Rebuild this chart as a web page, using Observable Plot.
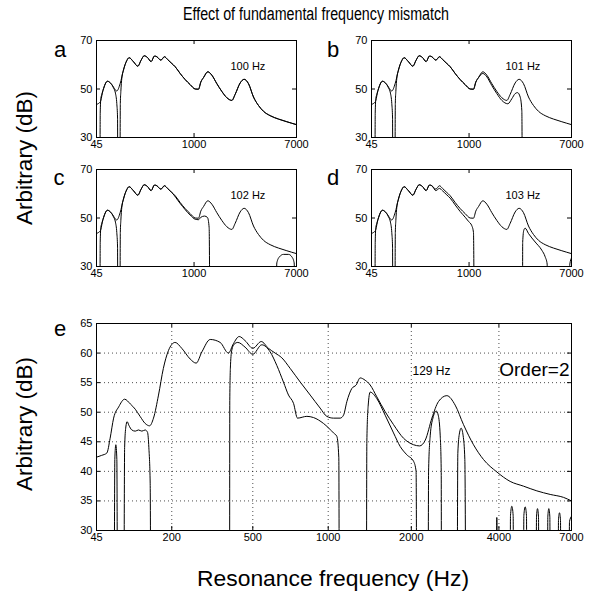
<!DOCTYPE html>
<html>
<head>
<meta charset="utf-8">
<script src="https://cdn.jsdelivr.net/npm/d3@7"></script>
<script src="https://cdn.jsdelivr.net/npm/@observablehq/plot@0.6"></script>
<style>
  html, body { margin: 0; padding: 0; background: #fff; }
  #fig { position: relative; width: 595px; height: 594px; overflow: hidden; background: #fff; }
  #fig svg { position: absolute; }
</style>
</head>
<body>
<div id="fig"></div>
<script>
// ---------- axis ticks ----------
const topXTicks = [45, 1000, 7000];
const topYTicks = [30, 50, 70];
const eXTicks = [45, 200, 500, 1000, 2000, 4000, 7000];
const eYTicks = [30, 35, 40, 45, 50, 55, 60, 65];

// ---------- panels a-d: common smooth spectrum (Hz, dB) ----------
const topMainHz = [45, 52, 59, 70, 89, 109, 134, 152, 171, 191, 206, 236, 267, 293, 318, 347, 381, 414, 439, 483, 526, 564, 622, 669, 746, 830, 923, 1023, 1095, 1149, 1212, 1322, 1431, 1579, 1740, 1917, 2110, 2248, 2472, 2665, 2891, 3175, 3485, 3823, 4325, 5040, 5870, 7000];
const topMainDb = [43.6, 44.0, 44.6, 49.4, 53.2, 51.8, 49.2, 52.2, 57.8, 61.7, 62.9, 61.2, 59.4, 61.9, 63.7, 63.0, 61.3, 63.6, 63.3, 61.9, 63.3, 62.2, 60.5, 59.2, 56.4, 53.9, 51.8, 50.0, 49.9, 52.9, 54.7, 57.1, 55.7, 52.2, 49.0, 46.4, 45.3, 47.8, 52.5, 54.0, 52.2, 46.7, 43.2, 40.8, 39.0, 37.6, 36.5, 35.3];

// second (mismatched) spectrum: low-frequency part shared by a-d; 0 dB = below the axis
const lowLeft = [[45, 0], [57.5, 0], [59, 40], [61.4, 46], [65.4, 47.8], [70, 49.4], [89, 53.2], [109, 51.8], [117, 50.5], [127, 48.3], [134, 44], [138, 38], [139.5, 0], [150.3, 0], [153, 44], [156, 49], [161.5, 54.5]];
const bRight = [[1322, 56.4], [1431, 55.0], [1579, 51.4], [1740, 48.1], [1917, 45.3], [2151, 43.9], [2321, 46.0], [2472, 48.1], [2584, 48.5], [2717, 46.7], [2803, 41], [2839, 0], [7000, 0]];
const cRight = [[746, 56.0], [923, 51.2], [1023, 49.5], [1095, 49.3], [1149, 50.3], [1237, 50.8], [1313, 50.2], [1357, 46], [1384, 0], [4770, 0], [4888, 31.5], [5132, 34], [5523, 35], [6052, 35], [6430, 34], [6709, 31.5], [6873, 0], [7000, 0]];
const dRight = [[483, 61.3], [526, 62.2], [564, 61.2], [622, 59.5], [669, 58.2], [746, 55.4], [830, 52.7], [923, 50.3], [989, 48.6], [1059, 46.8], [1095, 44], [1118, 0], [2839, 0], [2848, 40], [2910, 45], [2983, 45.8], [3175, 43.6], [3595, 40.1], [4067, 36.7], [4325, 34], [4486, 31], [4541, 0], [6628, 0], [6791, 31], [7000, 33.5]];

// ---------- panel e ----------
const eMainHz = [45, 53, 61.5, 67, 73, 82, 93, 104, 114, 124, 135, 145, 154, 166, 178, 191, 209, 228, 253, 272, 291, 320, 357, 390, 411, 436, 463, 500, 543, 582, 620, 660, 713, 781, 854, 932, 988, 1047, 1109, 1141, 1174, 1224, 1270, 1313, 1370, 1428, 1509, 1616, 1731, 1878, 2037, 2138, 2239, 2360, 2487, 2658, 2839, 3032, 3280, 3547, 3935, 4365, 4840, 5365, 5945, 6585, 7000];
const eMainDb = [42.4, 42.7, 43.1, 45.6, 49.0, 50.9, 52.2, 51.4, 50.5, 49.3, 48.1, 47.7, 49.0, 52.9, 57.4, 60.4, 61.8, 60.8, 59.0, 58.3, 60.2, 62.3, 61.8, 60.0, 61.6, 62.8, 62.1, 60.8, 61.95, 60.8, 60.0, 59.2, 57.4, 55.1, 52.9, 50.7, 49.3, 49.0, 49.0, 49.5, 51.8, 54.0, 54.6, 55.8, 55.4, 54.6, 52.6, 50.1, 47.9, 45.6, 44.5, 44.3, 45.3, 49.0, 51.8, 52.8, 51.2, 47.9, 44.5, 42.0, 39.9, 38.3, 37.5, 36.7, 36.1, 35.6, 35.0];
const eLow = [
  [45, 0], [73.4, 0], [75.1, 42], [76.9, 44.5], [78.7, 42], [80.5, 0],
  [90.9, 0], [93, 44], [95.3, 47.5], [97.9, 48.4], [101.1, 47.8], [107, 47.0], [114, 46.8], [120.6, 47.0], [127.8, 46.8], [135, 47.0], [140.3, 46.6], [143.3, 44], [146.3, 38], [148.6, 0],
  [394.5, 0], [395.6, 52], [398.6, 58], [404, 60.5], [414, 61.5], [430, 61.8], [463, 61.0], [500, 59.8], [546, 61.4], [591.5, 60.2], [630, 57.9], [670, 55.1], [702, 52.9], [735, 51.5], [762, 49.0], [829, 49.3], [879, 49.1], [960, 48.1], [1047, 46.5], [1078, 45.9], [1096, 42.3], [1103, 0],
  [1381, 0], [1389, 45], [1404, 51], [1428, 53.4], [1509, 52.3], [1616, 49.5], [1731, 46.5], [1828, 44.2], [1929, 42.8], [2037, 41.7], [2079, 40.0], [2096, 0],
  [2285, 0], [2298, 40], [2328, 46], [2379, 49], [2443, 50.2], [2482, 49.5], [2522, 46], [2542, 40], [2549, 0],
  [2876, 0], [2899, 43], [2938, 46.5], [2976, 47.3], [3024, 46], [3064, 42], [3104, 0],
  [3915, 0], [3935, 32.2], [3966, 0],
  [4354, 0], [4376, 32.5], [4422, 34.1], [4468, 32.5], [4491, 0],
  [4828, 0], [4853, 32.5], [4903, 34.0], [4953, 32.5], [4979, 0],
  [5323, 0], [5351, 32.3], [5392, 33.7], [5434, 32.3], [5462, 0],
  [5808, 0], [5838, 32.3], [5883, 33.7], [5929, 32.3], [5959, 0],
  [6304, 0], [6336, 31.8], [6385, 33.0], [6434, 31.8], [6467, 0],
  [6841, 0], [6893, 31.5], [7000, 32.4]
];

const panelLetters = ["a", "b", "c", "d", "e"];
const f0Labels = ["100 Hz", "101 Hz", "102 Hz", "103 Hz", "129 Hz"];

// ---------- build ----------
const FONT = "'Liberation Sans', Arial, Helvetica, sans-serif";
const WARP = 160; // resonance-frequency axis: log10(f + 160)
const warp = f => Math.log10(f + WARP);

const topMain = topMainHz.map((f, i) => [f, topMainDb[i]]);
const eMain = eMainHz.map((f, i) => [f, eMainDb[i]]);
const mainBetween = (lo, hi) => topMain.filter(p => p[0] >= lo && p[0] <= hi);

const aSecond = lowLeft.concat(mainBetween(171, 7000));
const bSecond = lowLeft.concat(mainBetween(171, 1212), bRight);
const cSecond = lowLeft.concat(mainBetween(171, 622), cRight);
const dSecond = lowLeft.concat(mainBetween(171, 439), dRight);

const fig = document.getElementById("fig");

function panel({left, top, width, height, xTicks, yTicks, lines, grid, texts}) {
  const mL = 34, mR = 12, mT = 8, mB = 22, tl = 4;
  const fmt = new Map(xTicks.map(t => [warp(t), String(t)]));
  const marks = [];
  if (grid) {
    marks.push(Plot.ruleX(xTicks.slice(1, -1), {x: warp, stroke: "#000", strokeWidth: 0.7, strokeDasharray: "1,3"}));
    marks.push(Plot.ruleY(yTicks.slice(1, -1), {y: d => d, stroke: "#000", strokeWidth: 0.7, strokeDasharray: "1,3"}));
  }
  for (const ln of lines) {
    marks.push(Plot.line(ln, {x: d => warp(d[0]), y: d => d[1], curve: "monotone-x", stroke: "#000", strokeWidth: 1, clip: true}));
  }
  marks.push(Plot.ruleX(xTicks, {x: warp, insetTop: height - tl, stroke: "#000"}));
  marks.push(Plot.ruleX(xTicks, {x: warp, insetBottom: height - tl, stroke: "#000"}));
  marks.push(Plot.ruleY(yTicks, {y: d => d, insetRight: width - tl, stroke: "#000"}));
  marks.push(Plot.ruleY(yTicks, {y: d => d, insetLeft: width - tl, stroke: "#000"}));
  marks.push(Plot.frame({stroke: "#000", strokeWidth: 1}));
  for (const t of texts) {
    marks.push(Plot.text([t.text], {text: d => d, frameAnchor: t.anchor, dx: t.dx, dy: t.dy,
      textAnchor: t.textAnchor, lineAnchor: "bottom", fontSize: t.size, fill: "#000"}));
  }
  const svg = Plot.plot({
    width: width + mL + mR, height: height + mT + mB,
    marginLeft: mL, marginRight: mR, marginTop: mT, marginBottom: mB,
    x: {domain: [warp(xTicks[0]), warp(xTicks[xTicks.length - 1])], ticks: xTicks.map(warp),
        tickFormat: v => fmt.get(v), tickSize: 0, tickPadding: 3, label: null},
    y: {domain: [yTicks[0], yTicks[yTicks.length - 1]], ticks: yTicks, tickSize: 0, tickPadding: 4, label: null},
    style: {fontFamily: FONT, fontSize: "11px", color: "#000", background: "transparent", overflow: "visible"},
    marks
  });
  svg.style.left = (left - mL) + "px";
  svg.style.top = (top - mT) + "px";
  fig.appendChild(svg);
}

const topPanels = [
  {left: 96, top: 40, second: aSecond},
  {left: 371, top: 40, second: bSecond},
  {left: 96, top: 169, second: cSecond},
  {left: 371, top: 169, second: dSecond}
];
topPanels.forEach((p, i) => panel({
  left: p.left, top: p.top, width: 200, height: 97,
  xTicks: topXTicks, yTicks: topYTicks,
  lines: [topMain, p.second], grid: false,
  texts: [{text: f0Labels[i], anchor: "top-left", dx: 134, dy: 29, textAnchor: "start", size: 11}]
}));

panel({
  left: 96, top: 323, width: 475, height: 207,
  xTicks: eXTicks, yTicks: eYTicks,
  lines: [eMain, eLow], grid: true,
  texts: [
    {text: f0Labels[4], anchor: "top-left", dx: 316, dy: 51, textAnchor: "start", size: 12},
    {text: "Order=2", anchor: "top-right", dx: -2, dy: 52, textAnchor: "end", size: 19}
  ]
});

// ---------- titles and labels (text overlay) ----------
const ns = "http://www.w3.org/2000/svg";
const over = document.createElementNS(ns, "svg");
over.setAttribute("width", 595); over.setAttribute("height", 594);
over.style.left = "0px"; over.style.top = "0px";
over.style.fontFamily = FONT;
function addText(str, x, y, size, rot, len) {
  const t = document.createElementNS(ns, "text");
  t.textContent = str;
  t.setAttribute("text-anchor", "middle");
  t.setAttribute("font-size", size);
  t.setAttribute("fill", "#000");
  if (len) { t.setAttribute("textLength", len); t.setAttribute("lengthAdjust", "spacingAndGlyphs"); }
  if (rot) t.setAttribute("transform", `translate(${x},${y}) rotate(-90)`);
  else { t.setAttribute("x", x); t.setAttribute("y", y); }
  over.appendChild(t);
}
addText("Effect of fundamental frequency mismatch", 316, 20, 18, false, 266);
addText("Resonance frequency (Hz)", 333, 586, 22, false, 272);
addText("Arbitrary (dB)", 32, 158, 22, true, 134);
addText("Arbitrary (dB)", 32, 424, 22, true, 134);
const letterPos = [[60, 57], [333, 57], [59, 185], [333, 185], [60, 336]];
panelLetters.forEach((l, i) => addText(l, letterPos[i][0], letterPos[i][1], 22, false, null));
fig.appendChild(over);
</script>
</body>
</html>
